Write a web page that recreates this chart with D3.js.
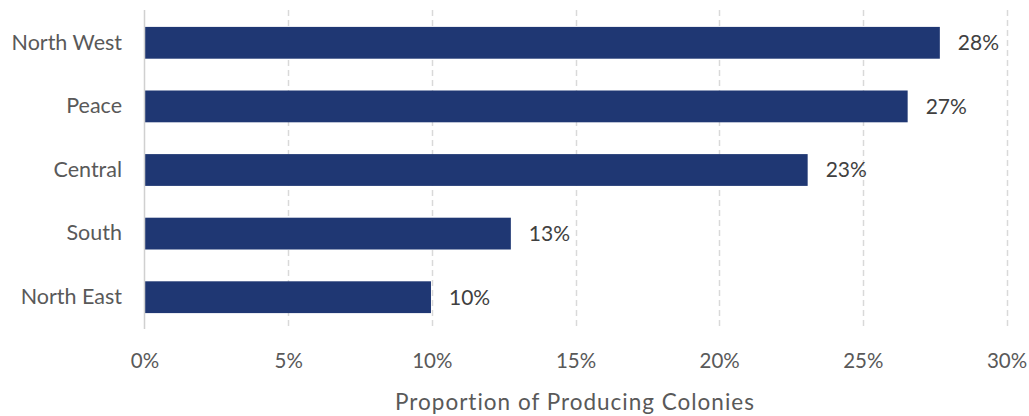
<!DOCTYPE html>
<html><head><meta charset="utf-8">
<script src="https://cdn.jsdelivr.net/npm/d3@7"></script>
<style>body{margin:0;background:#fff}svg{display:block}</style>
</head><body>
<svg id="chart" width="1029" height="416"></svg>
<script>
const categories = ["North West","Peace","Central","South","North East"];
const values = [0.2768, 0.2656, 0.2308, 0.1275, 0.0997];
const dataLabels = ["28%","27%","23%","13%","10%"];
const ticks = [0,0.05,0.10,0.15,0.20,0.25,0.30];
const axisTitle = "Proportion of Producing Colonies";

const svg = d3.select("#chart");
const font = "Lato, 'Open Sans', sans-serif";
const x = d3.scaleLinear().domain([0,0.30]).range([144.5,1006.5]);
const y = d3.scaleBand().domain(categories).range([11,329]).paddingInner(0.5).paddingOuter(0.25);

// gridlines
svg.append("g").selectAll("line").data(ticks.slice(1)).join("line")
  .attr("x1",d=>Math.round(x(d))+0.5).attr("x2",d=>Math.round(x(d))+0.5)
  .attr("y1",10).attr("y2",329)
  .attr("stroke","#d9d9d9").attr("stroke-width",1.5).attr("stroke-dasharray","6,4");

// bars
svg.append("g").selectAll("rect").data(categories).join("rect")
  .attr("x",x(0)).attr("y",(d)=>y(d))
  .attr("width",(d,i)=>x(values[i])-x(0)).attr("height",y.bandwidth())
  .attr("fill","#1F3773");

// zero axis line
svg.append("line").attr("x1",x(0)).attr("x2",x(0)).attr("y1",10).attr("y2",329)
  .attr("stroke","#d0d0d0").attr("stroke-width",1.5);

// x axis labels
const xAxis = d3.axisBottom(x).tickValues(ticks).tickFormat(d3.format(".0%")).tickSize(0).tickPadding(0);
const gx = svg.append("g").attr("transform","translate(0,353)").call(xAxis);
gx.select(".domain").remove();
gx.selectAll("text").attr("font-family",font).attr("font-size",20.5).attr("fill","#595959").attr("dy","0.71em");

// y axis labels
const yAxis = d3.axisLeft(y).tickSize(0).tickPadding(0);
const gy = svg.append("g").attr("transform","translate(122,0)").call(yAxis);
gy.select(".domain").remove();
gy.selectAll("text").attr("font-family",font).attr("font-size",21.5).attr("fill","#595959");

// data labels
svg.append("g").selectAll("text").data(categories).join("text")
  .attr("x",(d,i)=>x(values[i])+18).attr("y",d=>y(d)+y.bandwidth()/2)
  .attr("dy","0.35em").attr("font-family",font).attr("font-size",21).attr("fill","#404040")
  .text((d,i)=>dataLabels[i]);

// axis title
svg.append("text").attr("x",575).attr("y",410).attr("text-anchor","middle")
  .attr("font-family",font).attr("font-size",22.5).attr("fill","#595959")
  .attr("letter-spacing","1px").text(axisTitle);
</script>
</body></html>
